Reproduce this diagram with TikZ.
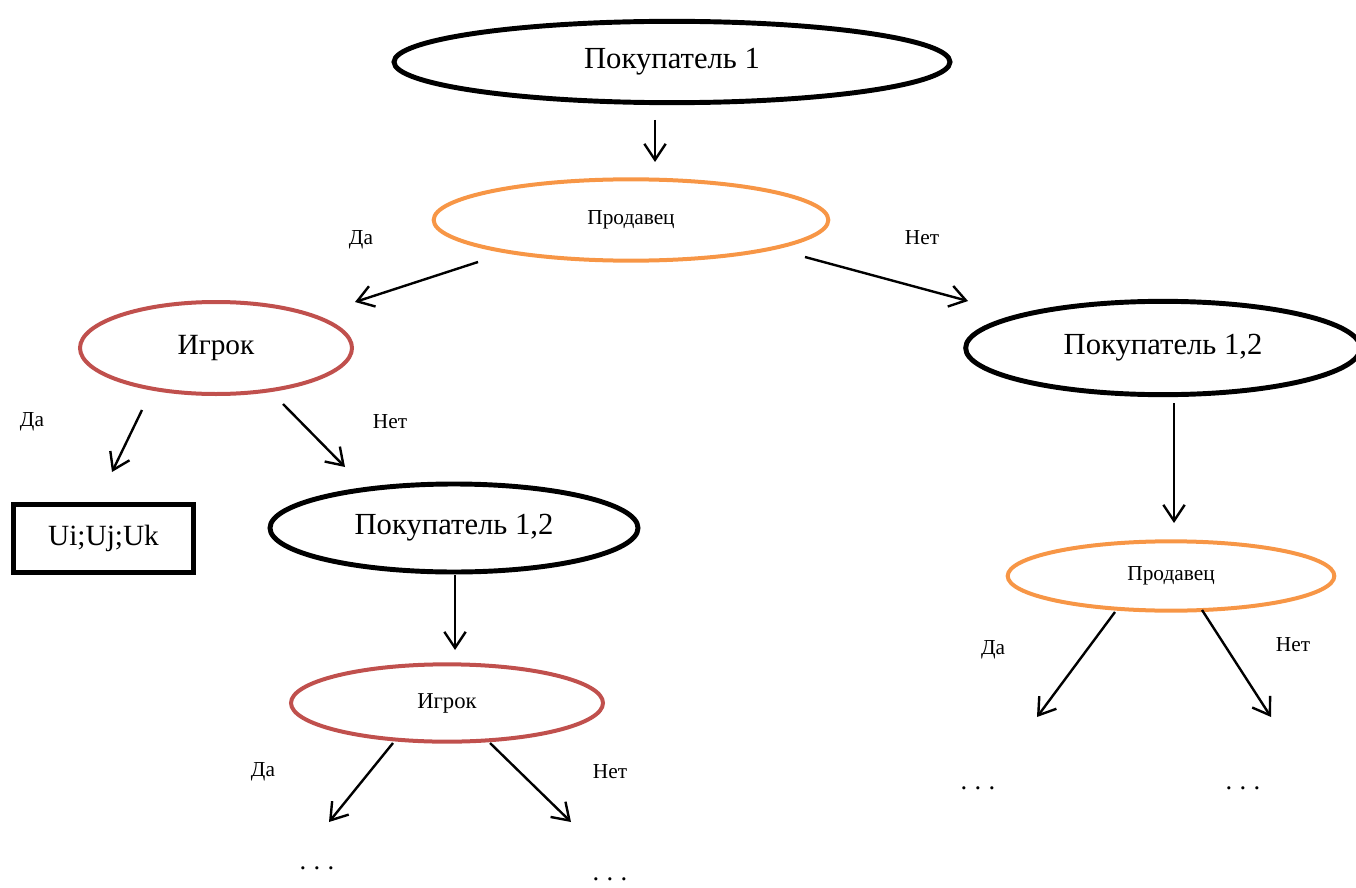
\documentclass[tikz,border=0pt]{standalone}
\usepackage{fontspec}
\setmainfont{Liberation Serif}
\usetikzlibrary{shapes.geometric,arrows.meta,calc}

\definecolor{sellerorange}{HTML}{F79646}
\definecolor{playerred}{HTML}{C0504D}

\begin{document}
\begin{tikzpicture}[x=0.75pt, y=-0.75pt,
            every node/.style={inner sep=0pt},
            buyer/.style={draw, ellipse, line width=3.7pt},
            seller/.style={draw=sellerorange, ellipse, line width=3pt},
            player/.style={draw=playerred, ellipse, line width=3pt},
            outcome/.style={draw, rectangle, line width=3.7pt},
            answer/.style={font=\fontsize{16}{18}\selectfont},
            etc/.style={font=\fontsize{20}{22}\selectfont},
            arr/.style={draw, line width=1.8pt, -{Straight Barb[length=12pt,width=16pt]}}]
        \useasboundingbox (0,0) rectangle (1356,888);

        % tree nodes
        \node[buyer, minimum width=417pt, minimum height=61pt, font=\fontsize{23}{25}\selectfont] (buyer) at (672,62) {Покупатель 1};
        \node[seller, minimum width=296pt, minimum height=61pt, font=\fontsize{16}{18}\selectfont] (seller) at (631,220) {Продавец};
        \node[player, minimum width=204pt, minimum height=69pt, font=\fontsize{22}{24}\selectfont] (player) at (216,348) {Игрок};
        \node[buyer, minimum width=296pt, minimum height=70pt, font=\fontsize{23}{25}\selectfont] (buyerR) at (1163,348) {Покупатель 1,2};
        \node[outcome, minimum width=135pt, minimum height=51pt, font=\fontsize{22}{24}\selectfont] (result) at (103.5,538.5) {Ui;Uj;Uk};
        \node[buyer, minimum width=276pt, minimum height=66pt, font=\fontsize{23}{25}\selectfont] (buyerL) at (454,528) {Покупатель 1,2};
        \node[player, minimum width=234pt, minimum height=58pt, font=\fontsize{17}{19}\selectfont] (playerS) at (447,703) {Игрок};
        \node[seller, minimum width=245pt, minimum height=52pt, font=\fontsize{16}{18}\selectfont] (sellerR) at (1171,576) {Продавец};

        % continuation dots
        \node[etc] (dotsA) at (317,868) {.\hspace{5.5pt}.\hspace{5.5pt}.};
        \node[etc] (dotsB) at (610,879) {.\hspace{5.5pt}.\hspace{5.5pt}.};
        \node[etc] (dotsC) at (978,788) {.\hspace{5.5pt}.\hspace{5.5pt}.};
        \node[etc] (dotsD) at (1243,788) {.\hspace{5.5pt}.\hspace{5.5pt}.};

        % answers
        \node[answer] (yes1) at (361,240) {Да};
        \node[answer] (no1) at (922,238) {Нет};
        \node[answer] (yes2) at (32,422) {Да};
        \node[answer] (no2) at (390,422) {Нет};
        \node[answer] (yes3) at (263,772) {Да};
        \node[answer] (no3) at (610,772) {Нет};
        \node[answer] (yes4) at (993,650) {Да};
        \node[answer] (no4) at (1293,645) {Нет};

        % moves
        \draw[arr] ($(buyer)+(-17,58)$) -- ($(seller)+(24,-58)$);
        \draw[arr] ($(seller)+(-153,42)$) -- ($(player)+(139,-46)$);
        \draw[arr] ($(seller)+(174,37)$) -- ($(buyerR)+(-195,-47)$);
        \draw[arr] ($(player)+(-74,62)$) -- ($(result)+(8.5,-66.5)$);
        \draw[arr] ($(player)+(67,56)$) -- ($(buyerL)+(-109,-61)$);
        \draw[arr] ($(buyerL)+(1,47)$) -- ($(playerS)+(8,-53)$);
        \draw[arr] ($(playerS)+(-54,40)$) -- ($(dotsA)+(12,-46)$);
        \draw[arr] ($(playerS)+(43,40)$) -- ($(dotsB)+(-39,-57)$);
        \draw[arr] ($(buyerR)+(11,55)$) -- ($(sellerR)+(3,-53)$);
        \draw[arr] ($(sellerR)+(-56,36)$) -- ($(dotsC)+(59,-71)$);
        \draw[arr] ($(sellerR)+(31,34)$) -- ($(dotsD)+(28,-71)$);
\end{tikzpicture}
\end{document}
